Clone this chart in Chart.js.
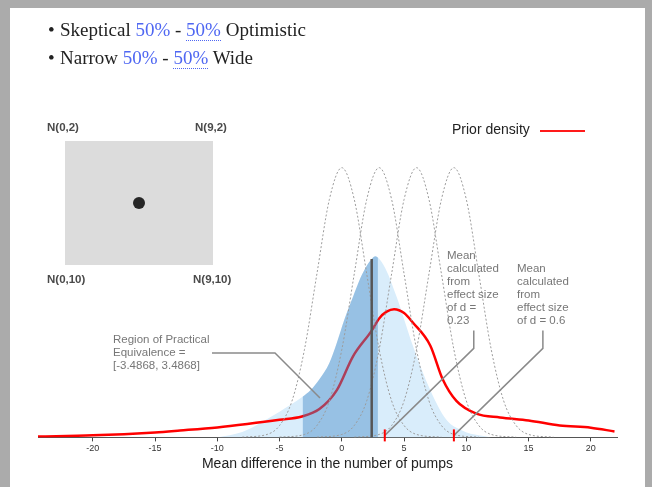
<!DOCTYPE html>
<html>
<head>
<meta charset="utf-8">
<script src="https://cdn.jsdelivr.net/npm/chart.js@4.4.1/dist/chart.umd.min.js"></script>
<style>
  html, body { margin: 0; padding: 0; background: #fff; }
  #page { position: relative; width: 652px; height: 487px; overflow: hidden; background: #fff; }
  #chart { position: absolute; left: 0; top: 0; }
  .frame { position: absolute; background: #ababab; }
  .bullets { position: absolute; left: 48px; top: 16px; font-family: "Liberation Serif", Georgia, serif; font-size: 19px; color: #222; line-height: 28px; }
  .bullets div::before { content: "\2022"; display: inline-block; width: 12px; }
  .pct { color: #4f67f2; }
  .dotted { border-bottom: 1px dotted #4f67f2; }
  .box { position: absolute; left: 65px; top: 141px; width: 148px; height: 124px; background: #dcdcdc; }
  .dot { position: absolute; left: 133px; top: 197px; width: 12px; height: 12px; border-radius: 50%; background: #262626; }
  .nlab { position: absolute; font-family: Arial, "Liberation Sans", sans-serif; font-size: 11.5px; font-weight: bold; color: #4a4a4a; }
  .legend { position: absolute; left: 452px; top: 121px; font-family: Arial, "Liberation Sans", sans-serif; font-size: 14px; color: #222; }
  .legline { position: absolute; left: 540px; top: 130px; width: 45px; height: 2px; background: #ff1a1a; }
  .note { position: absolute; font-family: Arial, "Liberation Sans", sans-serif; font-size: 11.5px; line-height: 13px; color: #777; white-space: nowrap; }
</style>
</head>
<body>
<div id="page">
  <canvas id="chart" width="652" height="487"></canvas>
  <div class="frame" style="left:0;top:0;width:652px;height:8px"></div>
  <div class="frame" style="left:0;top:0;width:10px;height:487px"></div>
  <div class="frame" style="left:645px;top:0;width:7px;height:487px"></div>

  <div class="bullets">
    <div>Skeptical <span class="pct">50%</span> - <span class="pct dotted">50%</span> Optimistic</div>
    <div>Narrow <span class="pct">50%</span> - <span class="pct dotted">50%</span> Wide</div>
  </div>

  <div class="box"></div>
  <div class="dot"></div>
  <div class="nlab" style="left:47px;top:121px">N(0,2)</div>
  <div class="nlab" style="left:195px;top:121px">N(9,2)</div>
  <div class="nlab" style="left:47px;top:273px">N(0,10)</div>
  <div class="nlab" style="left:193px;top:273px">N(9,10)</div>

  <div class="legend">Prior density</div>
  <div class="legline"></div>

  <div class="note" style="left:113px;top:333px">Region of Practical<br>Equivalence =<br>[-3.4868, 3.4868]</div>
  <div class="note" style="left:447px;top:249px">Mean<br>calculated<br>from<br>effect size<br>of d =<br>0.23</div>
  <div class="note" style="left:517px;top:262px">Mean<br>calculated<br>from<br>effect size<br>of d = 0.6</div>
</div>

<script>
// prior density (red)
var priorX = [-24.4, -20, -15, -13, -10, -7.6, -5, -3.2, -1.8, -0.4, 0.9, 2.4, 3.0, 3.6, 4.2, 5.0, 5.7, 7.1, 8.1, 9.2, 10.8, 12.7, 15, 17.5, 20, 21.9];
var priorY = [0.0007, 0.0015, 0.0037, 0.0051, 0.0074, 0.0099, 0.013, 0.0155, 0.021, 0.035, 0.060, 0.079, 0.088, 0.093, 0.0948, 0.092, 0.085, 0.068, 0.043, 0.027, 0.0176, 0.0147, 0.0125, 0.0088, 0.0072, 0.0044];

// posterior (blue area)
var postX = [-10, -8, -6.3, -5, -3.15, -2.5, -1.8, -1, -0.4, 0.2, 0.9, 1.5, 2, 2.4, 2.7, 2.9, 3.5, 4.4, 5.7, 7.1, 8.4, 9.7, 11, 12];
var postY = [0, 0.004, 0.012, 0.019, 0.030, 0.035, 0.043, 0.055, 0.070, 0.087, 0.104, 0.118, 0.127, 0.132, 0.134, 0.133, 0.125, 0.104, 0.068, 0.035, 0.013, 0.005, 0.0015, 0];
var ropeShown = [-3.15, 2.9];
var postMean = 2.4;
var postMeanHeight = 0.132;

// dotted N(mu, 2) curves
var normalMeans = [0, 3, 6, 9];
var bellOffsets = [-8, -6, -5, -4, -3, -2, -1, 0, 1, 2, 3, 4, 5, 6, 8];
var bellY = [0.0002, 0.0022, 0.0088, 0.027, 0.065, 0.121, 0.176, 0.1995, 0.176, 0.121, 0.065, 0.027, 0.0088, 0.0022, 0.0002];

// effect size means (red ticks)
var effectMeans = [3.45, 9.0];

var tickValues = [-20, -15, -10, -5, 0, 5, 10, 15, 20];

function pts(xs, ys) {
	return xs.map(function (x, i) { return { x: x, y: ys[i] }; });
}

var datasets = [];
datasets.push({
	data: pts(postX, postY),
	borderWidth: 0,
	backgroundColor: '#d9edfb',
	fill: 'origin',
	order: 6
});
datasets.push({
	data: pts(priorX, priorY),
	borderColor: '#ff0000',
	borderWidth: 2.5,
	fill: false,
	order: 4
});
datasets.push({
	data: pts(postX, postY).filter(function (p) { return p.x >= ropeShown[0] && p.x <= ropeShown[1]; }),
	borderWidth: 0,
	backgroundColor: 'rgba(70,140,200,0.45)',
	fill: 'origin',
	order: 3
});
normalMeans.forEach(function (mu) {
	datasets.push({
		data: bellOffsets.map(function (o, i) { return { x: mu + o, y: bellY[i] }; }),
		borderColor: '#9c9c9c',
		borderWidth: 1,
		borderDash: [2, 2],
		fill: false,
		order: 2
	});
});
datasets.push({
	data: [{ x: postMean, y: 0 }, { x: postMean, y: postMeanHeight }],
	borderColor: '#555',
	borderWidth: 2.5,
	fill: false,
	cubicInterpolationMode: 'default',
	tension: 0,
	order: 1
});

var annot = {
	id: 'annot',
	afterDatasetsDraw: function (chart) {
		var c = chart.ctx, xs = chart.scales.x, bottom = chart.chartArea.bottom;
		c.save();
		c.strokeStyle = '#8a8a8a';
		c.lineWidth = 1.5;
		// ROPE connector
		c.beginPath();
		c.moveTo(212, 353);
		c.lineTo(275, 353);
		c.lineTo(320, 398);
		c.stroke();
		effectMeans.forEach(function (m) {
			var px = xs.getPixelForValue(m);
			c.strokeStyle = '#8a8a8a';
			c.lineWidth = 1.5;
			c.beginPath();
			c.moveTo(px, bottom - 2);
			c.lineTo(px + 89, bottom - 89);
			c.lineTo(px + 89, bottom - 107);
			c.stroke();
			c.strokeStyle = '#ff0000';
			c.lineWidth = 2;
			c.beginPath();
			c.moveTo(px, bottom - 8);
			c.lineTo(px, bottom + 4);
			c.stroke();
		});
		c.restore();
	}
};

new Chart(document.getElementById('chart').getContext('2d'), {
	type: 'line',
	data: { datasets: datasets },
	options: {
		responsive: false,
		animation: false,
		layout: { padding: { left: 38, right: 35, top: 167, bottom: 8 } },
		elements: {
			point: { radius: 0 },
			line: { cubicInterpolationMode: 'monotone' }
		},
		plugins: {
			legend: { display: false },
			tooltip: { enabled: false }
		},
		scales: {
			x: {
				type: 'linear',
				min: -24.4,
				max: 22.1,
				afterBuildTicks: function (axis) {
					axis.ticks = tickValues.map(function (v) { return { value: v }; });
				},
				grid: { drawOnChartArea: false, drawTicks: true, tickLength: 4, color: '#444' },
				border: { color: '#555', dash: [1, 1] },
				ticks: { font: { size: 9, family: 'Arial' }, color: '#333', padding: 2 },
				title: {
					display: true,
					text: 'Mean difference in the number of pumps',
					font: { size: 14, family: 'Arial' },
					color: '#222',
					padding: { top: 0, bottom: 6 }
				}
			},
			y: { display: false, min: 0, max: 0.2 }
		}
	},
	plugins: [annot]
});
</script>
</body>
</html>
